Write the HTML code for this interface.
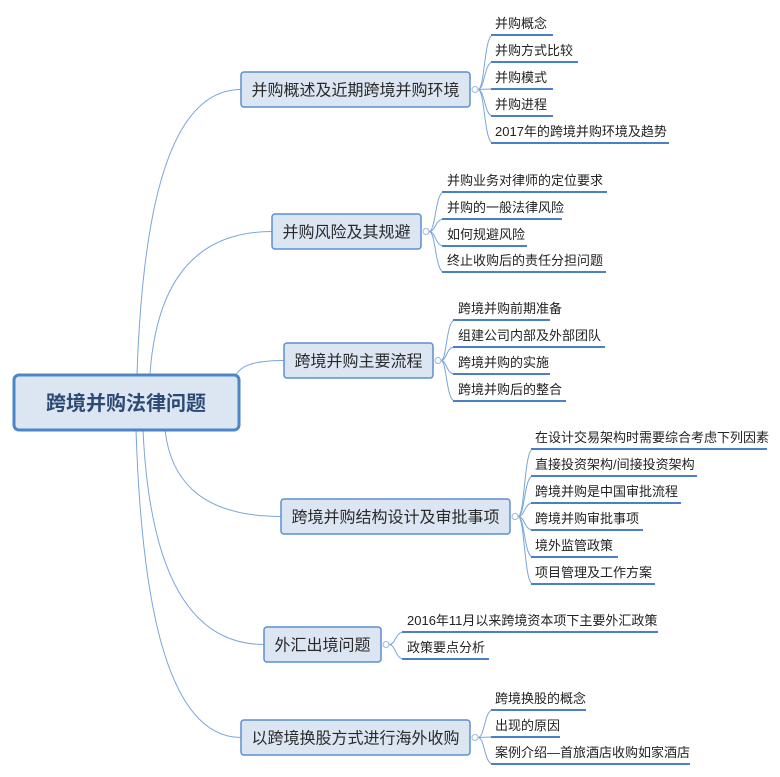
<!DOCTYPE html>
<html><head><meta charset="utf-8"><style>
html,body{margin:0;padding:0;background:#fff;width:780px;height:777px;overflow:hidden}
svg{display:block}
text{font-family:"Liberation Sans","Noto Sans CJK SC",sans-serif;fill:#222}
</style></head><body>
<svg id="s" width="780" height="777" xmlns="http://www.w3.org/2000/svg">
<g id="conn" fill="none" stroke="#7aa6dc" stroke-width="1"></g>
<g id="lines"></g>
<g id="nodes"></g>
</svg>
<script>
const NS="http://www.w3.org/2000/svg";
function el(parent,tag,attrs,txt){const e=document.createElementNS(NS,tag);for(const k in attrs)e.setAttribute(k,attrs[k]);if(txt!=null)e.textContent=txt;document.getElementById(parent).appendChild(e);return e;}
// root
el("nodes","rect",{x:14,y:375,width:225,height:55,rx:5,fill:"#dce6f2",stroke:"#4a86c8","stroke-width":3});
el("nodes","text",{x:126,y:410,"text-anchor":"middle","font-size":20,"font-weight":"bold",style:"fill:#2c4a74"},"跨境并购法律问题");
const branches=[
 {t:"并购概述及近期跨境并购环境",x:241,y:72,w:229,sx:[137,374],bx:487,tx:495,
  leaves:[["并购概念",35,553],["并购方式比较",62,578],["并购模式",89,553],["并购进程",116,553],["2017年的跨境并购环境及趋势",143,669]]},
 {t:"并购风险及其规避",x:272,y:214,w:149,sx:[150,374],bx:438,tx:447,
  leaves:[["并购业务对律师的定位要求",192,607],["并购的一般法律风险",219,562],["如何规避风险",246,527],["终止收购后的责任分担问题",272,606]]},
 {t:"跨境并购主要流程",x:284,y:343,w:149,sx:[235,376],bx:449,tx:458,
  leaves:[["跨境并购前期准备",320,550],["组建公司内部及外部团队",347,605],["跨境并购的实施",374,550],["跨境并购后的整合",401,566]]},
 {t:"跨境并购结构设计及审批事项",x:281,y:499,w:229,sx:[165,430],bx:527,tx:535,
  leaves:[["在设计交易架构时需要综合考虑下列因素",449,767],["直接投资架构/间接投资架构",476,697],["跨境并购是中国审批流程",503,681],["跨境并购审批事项",530,643],["境外监管政策",557,618],["项目管理及工作方案",584,655]]},
 {t:"外汇出境问题",x:264,y:627,w:117,sx:[143,430],bx:398,tx:407,
  leaves:[["2016年11月以来跨境资本项下主要外汇政策",632,658],["政策要点分析",659,489]]},
 {t:"以跨境换股方式进行海外收购",x:241,y:720,w:229,sx:[136,430],bx:487,tx:495,
  leaves:[["跨境换股的概念",710,586],["出现的原因",737,560],["案例介绍—首旅酒店收购如家酒店",764,690]]}
];
for(const b of branches){
  const cy=b.y+17.5, h=35;
  // root connector
  const [x0,y0]=b.sx;
  const up=y0<400;
  el("conn","path",{d:`M${x0},${y0} C${x0+ (up?5:5)},${(y0+cy)/2+(up?-0:0)} ${x0+ (b.x-x0)*0.25},${cy} ${b.x},${cy}`});
  el("nodes","rect",{x:b.x,y:b.y,width:b.w,height:h,rx:3,fill:"#dce6f2",stroke:"#5b8fd0","stroke-width":1.5});
  el("nodes","text",{x:b.x+b.w/2,y:cy+6,"text-anchor":"middle","font-size":16,style:"fill:#2a2a2a"},b.t);
  const px=b.x+b.w+5;
  el("nodes","circle",{cx:px,cy:cy,r:3,fill:"#fff",stroke:"#9bb8df","stroke-width":1});
  for(const [t,ly,ex] of b.leaves){
    const sx=b.bx;
    el("conn","path",{d:`M${px+3},${cy} C${sx-2},${cy} ${sx-3},${ly} ${sx+6},${ly}`,stroke:"#7aa6dc"});
    el("lines","line",{x1:sx+4,y1:ly,x2:ex,y2:ly,stroke:"#4a80c8","stroke-width":2});
    el("nodes","text",{x:b.tx,y:ly-7,"font-size":13},t);
  }
}
</script>
</body></html>
